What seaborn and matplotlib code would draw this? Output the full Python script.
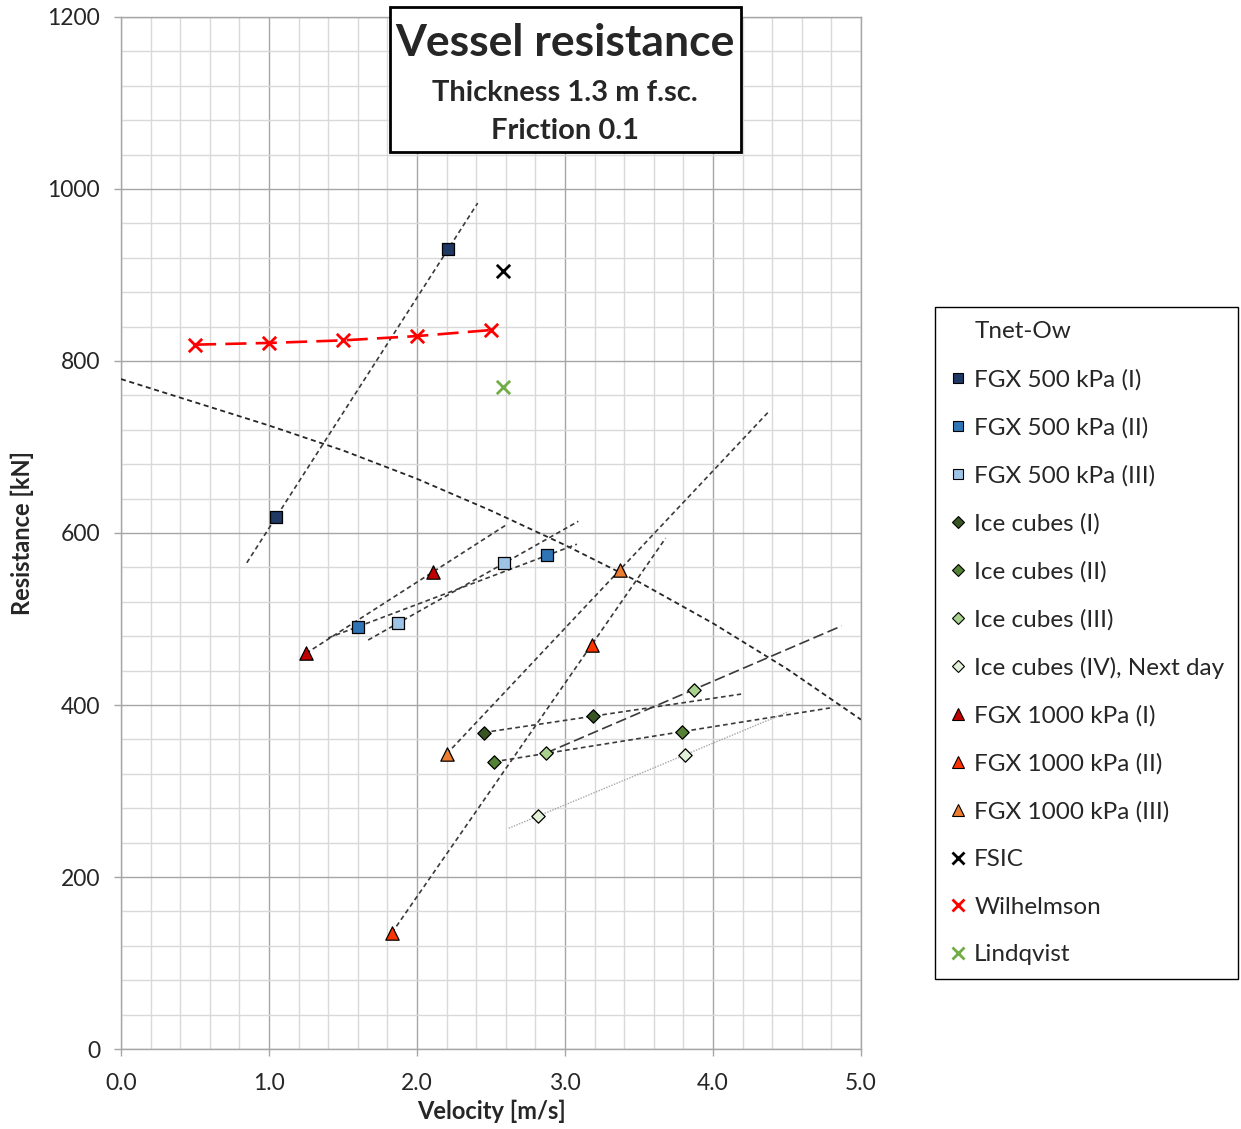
import numpy as np
import matplotlib
matplotlib.use("Agg")
import matplotlib.pyplot as plt
import seaborn as sns
from matplotlib.lines import Line2D
from matplotlib.patches import Rectangle
from matplotlib.ticker import MultipleLocator, FormatStrFormatter

# ---------------- data (velocity [m/s], resistance [kN]) ----------------
tnet_v = [0.0, 0.5, 1.0, 1.5, 2.0, 2.5, 3.0, 3.5, 4.0, 4.5, 5.0]
tnet_r = [779, 752, 725, 696, 663, 626, 586, 543, 495, 442, 383]

fgx500_1_v = [1.05, 2.21]
fgx500_1_r = [619, 930]
fgx500_2_v = [1.60, 2.88]
fgx500_2_r = [491, 574]
fgx500_3_v = [1.87, 2.59]
fgx500_3_r = [495, 565]

ice_1_v = [2.45, 3.19]
ice_1_r = [368, 387]
ice_2_v = [2.52, 3.79]
ice_2_r = [334, 369]
ice_3_v = [2.87, 3.87]
ice_3_r = [344, 418]
ice_4_v = [2.82, 3.81]
ice_4_r = [271, 342]

fgx1000_1_v = [1.25, 2.11]
fgx1000_1_r = [460, 555]
fgx1000_2_v = [1.83, 3.18]
fgx1000_2_r = [135, 470]
fgx1000_3_v = [2.20, 3.37]
fgx1000_3_r = [343, 557]

fsic_v = [2.58]
fsic_r = [905]
wilhelmson_v = [0.5, 1.0, 1.5, 2.0, 2.5]
wilhelmson_r = [819, 821, 824, 829, 836]
lindqvist_v = [2.58]
lindqvist_r = [770]

labels = ["FGX 500 kPa (I)", "FGX 500 kPa (II)", "FGX 500 kPa (III)",
          "Ice cubes (I)", "Ice cubes (II)", "Ice cubes (III)", "Ice cubes (IV), Next day",
          "FGX 1000 kPa (I)", "FGX 1000 kPa (II)", "FGX 1000 kPa (III)"]

# ---------------- styles ----------------
trend_dash = (0, (2.8, 2.0))
series = [
    # data v, data r, marker, face, size, (backward, forward), line style, line color, lw
    (fgx500_1_v, fgx500_1_r, "s", "#1F3864", 8.0, (0.2, 0.2), trend_dash, "#3a3a3a", 1.2),
    (fgx500_2_v, fgx500_2_r, "s", "#2E75B6", 8.0, (0.2, 0.2), trend_dash, "#3a3a3a", 1.2),
    (fgx500_3_v, fgx500_3_r, "s", "#9DC3E6", 8.0, (0.2, 0.5), trend_dash, "#3a3a3a", 1.2),
    (ice_1_v, ice_1_r, "D", "#375623", 6.8, (0.0, 1.0), trend_dash, "#3a3a3a", 1.2),
    (ice_2_v, ice_2_r, "D", "#548235", 6.8, (0.0, 1.0), trend_dash, "#3a3a3a", 1.2),
    (ice_3_v, ice_3_r, "D", "#A9D18E", 6.8, (0.0, 1.0), (0, (6.5, 2.7)), "#3a3a3a", 1.2),
    (ice_4_v, ice_4_r, "D", "#E2F0D9", 6.8, (0.2, 0.7), (0, (1, 1)), "#a6a6a6", 1.0),
    (fgx1000_1_v, fgx1000_1_r, "^", "#C00000", 9.6, (0.0, 0.5), trend_dash, "#3a3a3a", 1.2),
    (fgx1000_2_v, fgx1000_2_r, "^", "#FF3300", 9.6, (0.0, 0.5), trend_dash, "#3a3a3a", 1.2),
    (fgx1000_3_v, fgx1000_3_r, "^", "#ED7D31", 9.6, (0.0, 1.0), trend_dash, "#3a3a3a", 1.2),
]

sns.set_style("white")
plt.rcParams["font.family"] = ["Lato", "DejaVu Sans"]

W, H = 1241, 1129
fig = plt.figure(figsize=(W / 100, H / 100), dpi=100)
ax = fig.add_axes([121 / W, 80 / H, 740 / W, 1032 / H])

# Tnet-Ow curve
sns.lineplot(x=tnet_v, y=tnet_r, ax=ax, color="#262626", lw=1.3,
             linestyle=(0, (2.8, 2.0)), zorder=3, sort=False)

# trendlines and markers
for v, r, m, c, ms, (bk, fw), ls, lc, lw in series:
    coef = np.polyfit(v, r, 1)
    xs = np.array([min(v) - bk, max(v) + fw])
    ys = np.polyval(coef, xs)
    sns.lineplot(x=xs, y=ys, ax=ax, color=lc, lw=lw, linestyle=ls, zorder=3, sort=False)
for v, r, m, c, ms, (bk, fw), ls, lc, lw in series:
    sns.scatterplot(x=v, y=r, ax=ax, marker=m, color=c, s=ms ** 2,
                    edgecolor="black", linewidth=0.9, zorder=5)

# Wilhelmson (connected, long dashes)
sns.lineplot(x=wilhelmson_v, y=wilhelmson_r, ax=ax, color="#FF0000", lw=1.9,
             linestyle=(0, (8, 3.5)), zorder=4, sort=False)
sns.scatterplot(x=wilhelmson_v, y=wilhelmson_r, ax=ax, marker="x", color="#FF0000",
                s=92, linewidth=2.0, zorder=6)
sns.scatterplot(x=fsic_v, y=fsic_r, ax=ax, marker="x", color="black",
                s=92, linewidth=2.0, zorder=6)
sns.scatterplot(x=lindqvist_v, y=lindqvist_r, ax=ax, marker="x", color="#70AD47",
                s=92, linewidth=2.0, zorder=6)

# axes formatting
ax.set_xlim(0, 5)
ax.set_ylim(0, 1200)
ax.xaxis.set_major_locator(MultipleLocator(1.0))
ax.xaxis.set_minor_locator(MultipleLocator(0.2))
ax.yaxis.set_major_locator(MultipleLocator(200))
ax.yaxis.set_minor_locator(MultipleLocator(40))
ax.xaxis.set_major_formatter(FormatStrFormatter("%.1f"))
ax.grid(which="major", color="#a6a6a6", lw=1.0, zorder=0)
ax.grid(which="minor", color="#d9d9d9", lw=1.0, zorder=0)
ax.set_axisbelow(True)
for sp in ax.spines.values():
    sp.set_color("#a6a6a6")
    sp.set_linewidth(1.0)
ax.tick_params(which="major", direction="out", length=5, width=1, color="#a6a6a6",
               labelsize=16.5, labelcolor="#262626", left=True, bottom=True)
ax.tick_params(axis="y", pad=10)
ax.tick_params(axis="x", pad=12)
ax.tick_params(which="minor", length=0)
ax.set_xlabel("Velocity [m/s]", fontsize=17, fontweight="bold", labelpad=4)
ax.set_ylabel("Resistance [kN]", fontsize=17, fontweight="bold", labelpad=10)

# title box
fig.add_artist(Rectangle((390 / W, 1 - 152 / H), 351 / W, 145 / H, transform=fig.transFigure,
                         facecolor="white", edgecolor="black", lw=2, zorder=10))
fig.text(565 / W, 1 - 43 / H, "Vessel resistance", ha="center", va="center",
         fontsize=32, fontweight="bold", zorder=11)
fig.text(565 / W, 1 - 93 / H, "Thickness 1.3 m f.sc.", ha="center", va="center",
         fontsize=21, fontweight="bold", zorder=11)
fig.text(565 / W, 1 - 131 / H, "Friction 0.1", ha="center", va="center",
         fontsize=21, fontweight="bold", zorder=11)

# legend
handles = [Line2D([], [], color="none", label="Tnet-Ow")]
for (v, r, m, c, ms, _, _, _, _), lab in zip(series, labels):
    handles.append(Line2D([], [], linestyle="none", marker=m, markerfacecolor=c,
                          markeredgecolor="black", markeredgewidth=0.8,
                          markersize=ms * 0.85, label=lab))
handles.append(Line2D([], [], linestyle="none", marker="x", color="black", mew=2,
                      markersize=8.5, label="FSIC"))
handles.append(Line2D([], [], linestyle="none", marker="x", color="#FF0000", mew=2,
                      markersize=8.5, label="Wilhelmson"))
handles.append(Line2D([], [], linestyle="none", marker="x", color="#70AD47", mew=2,
                      markersize=8.5, label="Lindqvist"))
leg = fig.legend(handles=handles, loc="upper left", bbox_to_anchor=(935 / W, 1 - 307 / H),
                 frameon=True, fancybox=False, edgecolor="black", framealpha=1,
                 fontsize=17.5, handlelength=0.7, handletextpad=0.33, labelspacing=1.09,
                 borderpad=0.58, borderaxespad=0)
leg.get_frame().set_linewidth(1.0)
for t in leg.get_texts():
    t.set_color("#262626")

fig.savefig("out.png", dpi=100)
